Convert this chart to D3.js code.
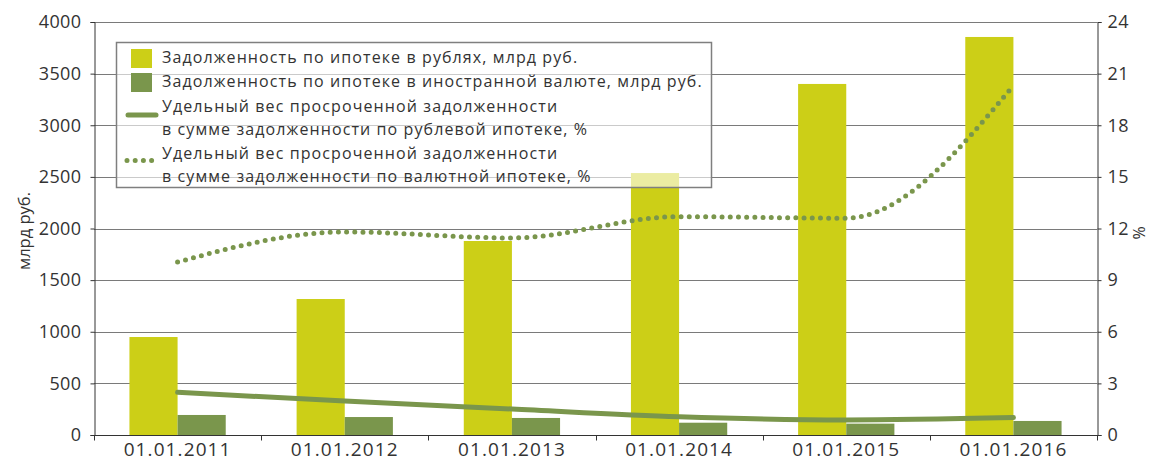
<!DOCTYPE html>
<html>
<head>
<meta charset="utf-8">
<script src="https://cdn.jsdelivr.net/npm/d3@7"></script>
<style>
  body { margin: 0; background: #fff; }
  text { font-family: "Open Sans", sans-serif; fill: #333; }
</style>
</head>
<body>
<div id="chart"></div>
<script>
const categories = ['01.01.2011', '01.01.2012', '01.01.2013', '01.01.2014', '01.01.2015', '01.01.2016'];
const rubDebt = [949, 1317, 1879, 2537, 3400, 3855];
const fxDebt = [194, 174, 165, 119, 110, 136];
const rubOverdue = [2.48, 1.97, 1.51, 1.06, 0.87, 1.01];
const fxOverdue = [10.05, 11.8, 11.45, 12.69, 12.6, 20.3];
const leftTicks = [0, 500, 1000, 1500, 2000, 2500, 3000, 3500, 4000];
const rightTicks = [0, 3, 6, 9, 12, 15, 18, 21, 24];
const legendLabels = [
    ['Задолженность по ипотеке в рублях, млрд руб.'],
    ['Задолженность по ипотеке в иностранной валюте, млрд руб.'],
    ['Удельный вес просроченной задолженности', 'в сумме задолженности по рублевой ипотеке, %'],
    ['Удельный вес просроченной задолженности', 'в сумме задолженности по валютной ипотеке, %']
];

const chartWidth = 1154;
const chartHeight = 461;
const plotLeft = 94, plotRight = 1097, plotTop = 22, plotBottom = 435;
const yellow = '#cccf17';
const green = '#7a964c';

const svg = d3.select('#chart')
    .append('svg')
    .attr('width', chartWidth)
    .attr('height', chartHeight);

const xScale = d3.scaleBand()
    .domain(categories)
    .range([plotLeft, plotRight]);

const yLeft = d3.scaleLinear()
    .domain([0, 4000])
    .range([plotBottom, plotTop]);

const yRight = d3.scaleLinear()
    .domain([0, 24])
    .range([plotBottom, plotTop]);

// gridlines
svg.append('g')
    .selectAll('line')
    .data(leftTicks)
    .enter()
    .append('line')
    .attr('x1', plotLeft)
    .attr('x2', plotRight)
    .attr('y1', d => Math.round(yLeft(d)) + 0.5)
    .attr('y2', d => Math.round(yLeft(d)) + 0.5)
    .attr('stroke', '#7a7a7a')
    .attr('stroke-width', 1);

// bars
const barW = xScale.bandwidth() * 0.288;
const bars = svg.append('g');
bars.selectAll('.rub')
    .data(rubDebt)
    .enter()
    .append('rect')
    .attr('x', (d, i) => xScale(categories[i]) + xScale.bandwidth() / 2 - barW)
    .attr('y', d => yLeft(d))
    .attr('width', barW)
    .attr('height', d => plotBottom - yLeft(d))
    .attr('fill', yellow);
bars.selectAll('.fx')
    .data(fxDebt)
    .enter()
    .append('rect')
    .attr('x', (d, i) => xScale(categories[i]) + xScale.bandwidth() / 2)
    .attr('y', d => yLeft(d))
    .attr('width', barW)
    .attr('height', d => plotBottom - yLeft(d))
    .attr('fill', green);

// lines
const line = d3.line()
    .x((d, i) => xScale(categories[i]) + xScale.bandwidth() / 2)
    .y(d => yRight(d))
    .curve(d3.curveMonotoneX);

svg.append('path')
    .attr('d', line(rubOverdue))
    .attr('fill', 'none')
    .attr('stroke', green)
    .attr('stroke-width', 5)
    .attr('stroke-linecap', 'round');

svg.append('path')
    .attr('d', line(fxOverdue))
    .attr('fill', 'none')
    .attr('stroke', green)
    .attr('stroke-width', 5)
    .attr('stroke-linecap', 'round')
    .attr('stroke-dasharray', '0 8.2');

// axes
const axisLeft = d3.axisLeft(yLeft)
    .tickValues(leftTicks)
    .tickFormat(d3.format('d'))
    .tickSize(4)
    .tickPadding(9);
svg.append('g')
    .attr('transform', 'translate(' + (plotLeft + 0.5) + ',0)')
    .call(axisLeft);

const axisRight = d3.axisRight(yRight)
    .tickValues(rightTicks)
    .tickFormat(d3.format('d'))
    .tickSize(4)
    .tickPadding(6);
svg.append('g')
    .attr('transform', 'translate(' + (plotRight + 0.5) + ',0)')
    .call(axisRight);

svg.append('g')
    .attr('transform', 'translate(0,' + (plotBottom + 0.5) + ')')
    .selectAll('line')
    .data(d3.range(categories.length + 1))
    .enter()
    .append('line')
    .attr('x1', i => Math.round(plotLeft + i * xScale.step()) + 0.5)
    .attr('x2', i => Math.round(plotLeft + i * xScale.step()) + 0.5)
    .attr('y1', 0)
    .attr('y2', 5)
    .attr('stroke', '#333');

svg.append('line')
    .attr('x1', plotLeft)
    .attr('x2', plotRight + 1)
    .attr('y1', plotBottom + 0.5)
    .attr('y2', plotBottom + 0.5)
    .attr('stroke', '#333');

svg.selectAll('.xlabel')
    .data(categories)
    .enter()
    .append('text')
    .attr('x', d => xScale(d) + xScale.bandwidth() / 2)
    .attr('y', 456)
    .attr('text-anchor', 'middle')
    .style('font-size', '19px')
    .style('letter-spacing', '1.1px')
    .attr('fill', '#444')
    .text(d => d);

svg.selectAll('.domain').attr('stroke', '#333');
svg.selectAll('.tick line').attr('stroke', '#333');
svg.selectAll('.tick text')
    .style('font-size', '18px')
    .style('letter-spacing', '0.4px')
    .style('font-family', '"Open Sans", sans-serif')
    .attr('fill', '#333');

svg.append('text')
    .attr('transform', 'translate(30,231) rotate(-90)')
    .attr('text-anchor', 'middle')
    .style('font-size', '16.5px')
    .text('млрд руб.');

svg.append('text')
    .attr('transform', 'translate(1145,233) rotate(-90)')
    .attr('text-anchor', 'middle')
    .style('font-size', '16px')
    .text('%');

// legend
const legend = svg.append('g');
legend.append('rect')
    .attr('x', 116.5)
    .attr('y', 42.5)
    .attr('width', 595)
    .attr('height', 145)
    .attr('fill', '#fff')
    .attr('fill-opacity', 0.6)
    .attr('stroke', '#7f7f7f')
    .attr('stroke-width', 1.5);

legend.append('rect')
    .attr('x', 131).attr('y', 49).attr('width', 21).attr('height', 19)
    .attr('fill', yellow);
legend.append('rect')
    .attr('x', 131).attr('y', 73).attr('width', 21).attr('height', 19)
    .attr('fill', green);
legend.append('line')
    .attr('x1', 128).attr('x2', 156).attr('y1', 115).attr('y2', 115)
    .attr('stroke', green).attr('stroke-width', 5).attr('stroke-linecap', 'round');
legend.append('line')
    .attr('x1', 127).attr('x2', 158).attr('y1', 160.5).attr('y2', 160.5)
    .attr('stroke', green).attr('stroke-width', 5).attr('stroke-linecap', 'round')
    .attr('stroke-dasharray', '0 8.2');

const rowY = [[63], [87], [111.5, 135], [158.5, 182]];
legendLabels.forEach((lines, i) => {
    lines.forEach((t, j) => {
        legend.append('text')
            .attr('x', 162)
            .attr('y', rowY[i][j])
            .style('font-size', '16px')
            .style('letter-spacing', '1.1px')
            .text(t);
    });
});
</script>
</body>
</html>
